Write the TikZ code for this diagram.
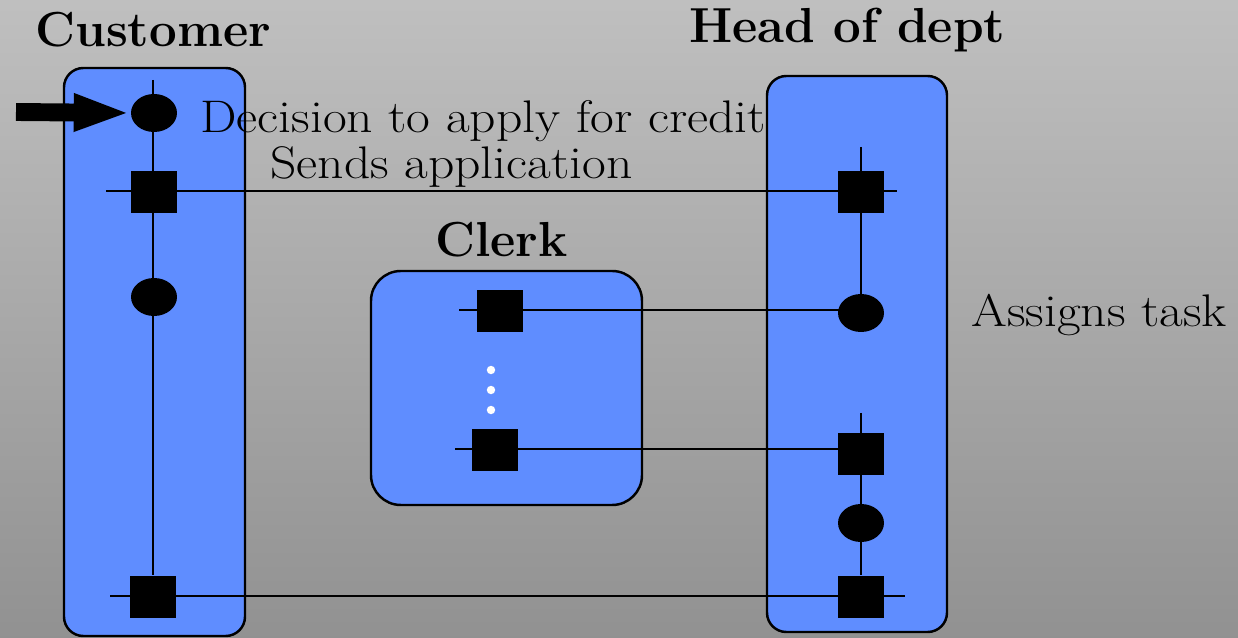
\documentclass[tikz,border=0pt]{standalone}
\usepackage{fontspec}
\usepackage{tikz}
\usetikzlibrary{
  shapes.geometric,
  arrows.meta
}
\newfontfamily\noteFont{Latin Modern Roman}[FakeStretch=1.13]
\definecolor{laneFill}{RGB}{95,141,255}
\colorlet{backTop}{black!25}
\colorlet{backBottom}{black!43}

\begin{document}
\begin{tikzpicture}[
  x=0.02cm,
  y=-0.02cm,
  laneBox/.style={
    draw=black,
    line width=1.4pt,
    fill=laneFill,
    rounded corners=11pt,
  },
  eventSquare/.style={
    rectangle,
    fill=black,
    inner sep=0pt,
    minimum width=0.92cm,
    minimum height=0.86cm,
  },
  stateOval/.style={
    ellipse,
    fill=black,
    inner sep=0pt,
    minimum width=0.92cm,
    minimum height=0.76cm,
  },
  wire/.style={
    draw=black,
    line width=1.1pt,
  },
  laneTitle/.style={
    font=\fontsize{28}{30}\selectfont\bfseries,
    inner sep=0pt,
    anchor=base west,
  },
  laneNote/.style={
    font=\noteFont\fontsize{26}{30}\selectfont,
    inner sep=0pt,
    anchor=base west,
  },
]
\useasboundingbox (0,0) rectangle (1238,638);
\clip (0,0) rectangle (1238,638);
\shade[top color=backTop, bottom color=backBottom] (0,0) rectangle (1238,638);

\draw[laneBox] (64,68) rectangle (245,636);
\draw[laneBox] (767,76) rectangle (947,632);
\draw[laneBox, rounded corners=17pt] (371,271) rectangle (642,505);

\node[laneTitle] (custTitle) at (35,47) {Customer};
\node[laneTitle] (hdTitle) at (689,43) {Head of dept};
\node[laneTitle] (clTitle) at (435,257) {Clerk};

\node[stateOval] (decide) at (154,113) {};
\node[eventSquare] (apply) at (154,192) {};
\node[stateOval] (wait) at (154,297) {};
\node[eventSquare] (receive) at (153,597) {};
\coordinate (custTop) at (153,80);
\coordinate (applyW) at (106,191);
\coordinate (receiveW) at (110,596);
\draw[wire] (custTop) -- (receive);

\node[eventSquare] (hdApply) at (861,192) {};
\node[stateOval] (hdAssign) at (861,313) {};
\node[eventSquare] (hdReport) at (861,454) {};
\node[stateOval] (hdCheck) at (861,523) {};
\node[eventSquare] (hdReply) at (861,597) {};
\coordinate (hdTopA) at (861,147);
\coordinate (hdTopB) at (861,413);
\coordinate (hdApplyE) at (897,191);
\coordinate (hdReplyE) at (905,596);
\draw[wire] (hdTopA) -- (hdAssign);
\draw[wire] (hdTopB) -- (hdReply);

\node[eventSquare] (clTake) at (500,311) {};
\node[eventSquare] (clDone) at (495,450) {};
\coordinate (clTakeW) at (459,310);
\coordinate (clDoneW) at (455,449);
\foreach \y in {370,390,410}
  \fill[white] (491,\y) circle (2.4pt);

\draw[wire] (applyW) -- (hdApplyE);
\draw[wire] (clTakeW) -- (clTakeW -| hdAssign);
\draw[wire] (clDoneW) -- (clDoneW -| hdReport);
\draw[wire] (receiveW) -- (hdReplyE);

\coordinate (start) at (16,112);
\draw[line width=10.2pt, -{Triangle[length=1.14cm, width=0.68cm]}] (start) -- (decide.west);

\node[laneNote] (decideText) at (200,133) {Decision to apply for credit};
\node[laneNote] (applyText) at (270,179) {Sends application};
\node[laneNote] (assignText) at (971,327) {Assigns task};
\end{tikzpicture}
\end{document}
